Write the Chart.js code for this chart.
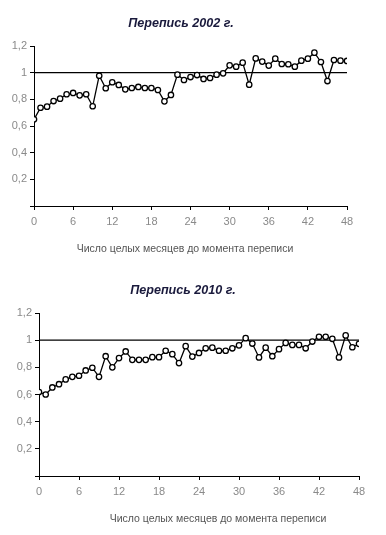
<!DOCTYPE html>
<html>
<head>
<meta charset="utf-8">
<script src="https://cdn.jsdelivr.net/npm/chart.js@4.4.1/dist/chart.umd.min.js"></script>
<style>
  body { margin: 0; background: #fff; }
  #wrap { position: relative; width: 386px; height: 535px; }
  .box { position: absolute; left: 0; width: 386px; }
  .ttl { position: absolute; font: italic bold 12.6px "Liberation Sans", Arial, sans-serif; color: #1a1a3c; white-space: nowrap; transform: translate(-50%, -50%); }
  .cap { position: absolute; font: 10.5px "Liberation Sans", Arial, sans-serif; color: #555; white-space: nowrap; transform: translate(-50%, -50%); }
</style>
</head>
<body>
<div id="wrap">
  <div class="box" style="top:0;height:265px"><canvas id="c1"></canvas></div>
  <div class="box" style="top:268px;height:267px"><canvas id="c2"></canvas></div>
  <div class="ttl" style="left:181px;top:23px">Перепись 2002 г.</div>
  <div class="cap" style="left:185px;top:248px">Число целых месяцев до момента переписи</div>
  <div class="ttl" style="left:183px;top:290px">Перепись 2010 г.</div>
  <div class="cap" style="left:218px;top:518px">Число целых месяцев до момента переписи</div>
</div>
<script>
// months before census (0..48)
const months = [0,1,2,3,4,5,6,7,8,9,10,11,12,13,14,15,16,17,18,19,20,21,22,23,24,
  25,26,27,28,29,30,31,32,33,34,35,36,37,38,39,40,41,42,43,44,45,46,47,48];

const census2002 = [0.65,0.737,0.745,0.787,0.805,0.838,0.848,0.83,0.838,0.748,
  0.977,0.883,0.928,0.908,0.875,0.885,0.893,0.885,0.885,0.87,
  0.785,0.833,0.985,0.945,0.967,0.982,0.953,0.96,0.985,0.995,
  1.055,1.045,1.075,0.91,1.107,1.083,1.053,1.105,1.065,1.063,
  1.045,1.09,1.105,1.15,1.08,0.937,1.095,1.09,1.088];

const census2010 = [0.618,0.60,0.652,0.676,0.711,0.73,0.738,0.777,0.797,0.73,
  0.882,0.80,0.868,0.917,0.855,0.855,0.855,0.875,0.875,0.922,
  0.897,0.831,0.956,0.879,0.906,0.94,0.945,0.922,0.922,0.94,
  0.962,1.015,0.975,0.873,0.945,0.882,0.934,0.98,0.965,0.965,
  0.94,0.99,1.025,1.025,1.01,0.873,1.035,0.948,0.973];

const xTicks = [0,6,12,18,24,30,36,42,48];
const yTickLabels = ['', '0,2', '0,4', '0,6', '0,8', '1', '1,2'];
const refLevel = 1;

const tickFont = { family: '"Liberation Sans", Arial, sans-serif', size: 11 };

function makeChart(id, values, pad, yWidth, xHeight) {
  const pts = months.map((m, i) => ({ x: m, y: values[i] }));
  const ref = [{ x: months[0], y: refLevel }, { x: months[months.length - 1], y: refLevel }];
  return new Chart(document.getElementById(id), {
    type: 'line',
    data: {
      datasets: [
        { data: ref, borderColor: '#000', borderWidth: 1.3, pointRadius: 0, order: 2 },
        { data: pts, borderColor: '#000', borderWidth: 1.3, pointRadius: 2.7,
          pointBackgroundColor: '#fff', pointBorderColor: '#000', pointBorderWidth: 1.3, order: 1 }
      ]
    },
    options: {
      responsive: true,
      maintainAspectRatio: false,
      animation: false,
      layout: { padding: pad },
      plugins: { legend: { display: false }, tooltip: { enabled: false } },
      scales: {
        x: {
          type: 'linear', min: 0, max: 48,
          afterBuildTicks: s => { s.ticks = xTicks.map(v => ({ value: v })); },
          afterFit: s => { s.height = xHeight; },
          grid: { drawOnChartArea: false, drawTicks: true, tickLength: 4, color: '#000' },
          border: { color: '#000', width: 1 },
          ticks: { color: '#8a8a8a', font: tickFont, padding: 5, maxRotation: 0 }
        },
        y: {
          min: 0, max: 1.2,
          ticks: { stepSize: 0.2, color: '#8a8a8a', font: tickFont, padding: 3,
            callback: (v, i) => yTickLabels[i] },
          afterFit: s => { s.width = yWidth; },
          grid: { drawOnChartArea: false, drawTicks: true, tickLength: 4, color: '#000' },
          border: { color: '#000', width: 1 }
        }
      }
    }
  });
}

makeChart('c1', census2002, { left: 0, right: 39, top: 46, bottom: 0 }, 34, 59);
makeChart('c2', census2010, { left: 0, right: 27, top: 45, bottom: 0 }, 39, 59);
</script>
</body>
</html>
